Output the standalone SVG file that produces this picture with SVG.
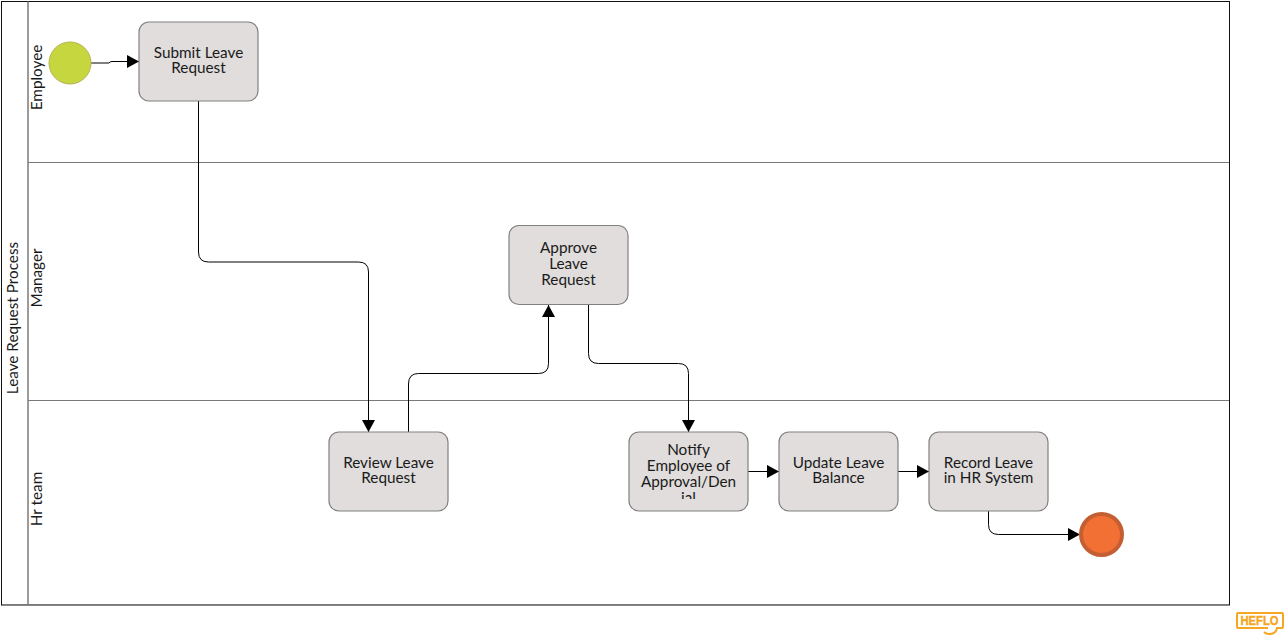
<svg xmlns="http://www.w3.org/2000/svg" width="1286" height="637" viewBox="0 0 1286 637">
<style>
text{font-family:"Lato","Open Sans","Liberation Sans",sans-serif;font-size:15.3px;fill:#1a1a1a;text-anchor:middle}
.task{fill:#e0dddc;stroke:#808080;stroke-width:1.2}
.conn{fill:none;stroke:#000;stroke-width:1}
.lane{fill:none;stroke:#7a7a7a;stroke-width:1}
</style>
<defs>
<marker id="arrow" markerUnits="userSpaceOnUse" markerWidth="13" markerHeight="13" refX="12" refY="6.500" orient="auto"><path d="M0 0L12 6.500L0 13Z" fill="#000"/></marker>
<clipPath id="clipNotify"><rect x="630" y="436" width="117" height="63"/></clipPath>
</defs>
<rect width="1286" height="637" fill="#fff"/>
<g id="pool">
<rect x="1.500" y="1.500" width="1228" height="603.500" fill="#fff" stroke="#111" stroke-width="1"/>
<line x1="28" y1="1.500" x2="28" y2="605" stroke="#7a7a7a" stroke-width="1.500"/>
<line x1="2" y1="604.500" x2="1229" y2="604.500" stroke="#777" stroke-width="1"/>
<text transform="translate(18 318) rotate(-90)">Leave Request Process</text>
</g>
<g id="lane-employee">
<line class="lane" x1="28" y1="162.500" x2="1229" y2="162.500"/>
<text transform="translate(42 77.500) rotate(-90)">Employee</text>
</g>
<g id="lane-manager">
<line class="lane" x1="28" y1="400.500" x2="1229" y2="400.500"/>
<text transform="translate(42 278) rotate(-90)">Manager</text>
</g>
<g id="lane-hr">
<text transform="translate(42 499) rotate(-90)">Hr team</text>
</g>
<g id="connectors">
<path class="conn" d="M91 63H109Q110 61.500 112 61.500H139" marker-end="url(#arrow)"/>
<path class="conn" d="M198.500 101V252Q198.500 262 208.500 262H358.500Q368.500 262 368.500 272V432" marker-end="url(#arrow)"/>
<path class="conn" d="M408.500 432V384Q408.500 373.500 418.500 373.500H538.500Q548.500 373.500 548.500 363.500V305" marker-end="url(#arrow)"/>
<path class="conn" d="M588.500 305V353.500Q588.500 363.500 598.500 363.500H678.500Q688.500 363.500 688.500 373.500V432" marker-end="url(#arrow)"/>
<path class="conn" d="M748 471.500H779" marker-end="url(#arrow)"/>
<path class="conn" d="M898 471.500H929" marker-end="url(#arrow)"/>
<path class="conn" d="M988.500 511V524.500Q988.500 534.500 998.500 534.500H1080" marker-end="url(#arrow)"/>
</g>
<g id="start-event"><circle cx="70" cy="63" r="21" fill="#c5d63f" stroke="#b8b255" stroke-width="1"/></g>
<g id="task-submit"><rect class="task" x="139" y="22" width="119" height="79" rx="10"/><text x="198.500" y="58">Submit Leave</text><text x="198.500" y="73">Request</text></g>
<g id="task-approve"><rect class="task" x="509" y="225.500" width="119" height="79" rx="10"/><text x="568.500" y="253">Approve</text><text x="568.500" y="269">Leave</text><text x="568.500" y="285">Request</text></g>
<g id="task-review"><rect class="task" x="329" y="432" width="119" height="79" rx="10"/><text x="388.500" y="468">Review Leave</text><text x="388.500" y="483">Request</text></g>
<g id="task-notify"><rect class="task" x="629" y="432" width="119" height="79" rx="10"/><g clip-path="url(#clipNotify)"><text x="688.500" y="455">Notify</text><text x="688.500" y="471">Employee of</text><text x="688.500" y="487">Approval/Den</text><text x="688.500" y="503">ial</text></g></g>
<g id="task-update"><rect class="task" x="779" y="432" width="119" height="79" rx="10"/><text x="838.500" y="468">Update Leave</text><text x="838.500" y="483">Balance</text></g>
<g id="task-record"><rect class="task" x="929" y="432" width="119" height="79" rx="10"/><text x="988.500" y="468">Record Leave</text><text x="988.500" y="483">in HR System</text></g>
<g id="end-event"><circle cx="1101.500" cy="534.500" r="20.500" fill="#f37035" stroke="#c35f33" stroke-width="4"/></g>
<g id="logo">
<path d="M1268 628H1238Q1237 628 1237 627V614Q1237 613 1238 613H1282Q1283 613 1283 614V627Q1283 628 1282 628H1277Q1276 634 1269 634Q1266 634 1264 632" fill="none" stroke="#f5a623" stroke-width="2"/>
<text x="1259.500" y="625" textLength="38" lengthAdjust="spacingAndGlyphs" style="font-family:'Liberation Sans',sans-serif;font-weight:700;font-size:13px;fill:#f5a623;stroke:#f5a623;stroke-width:.4">HEFLO</text>
</g>
</svg>
